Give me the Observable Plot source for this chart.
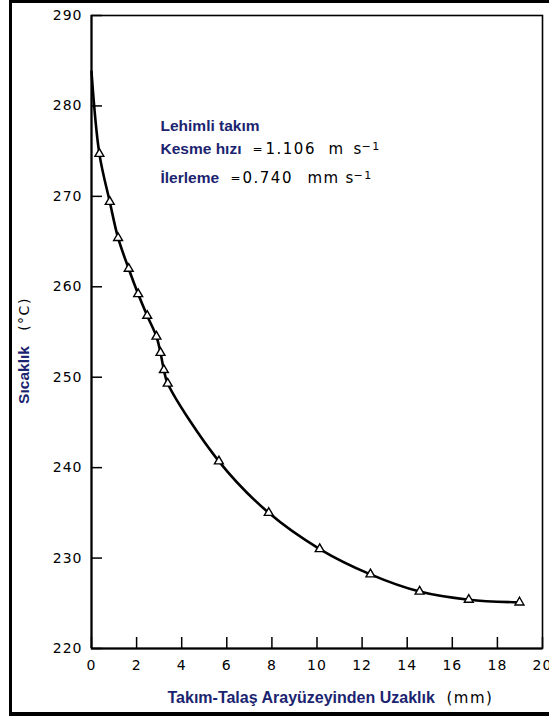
<!DOCTYPE html>
<html><head><meta charset="utf-8">
<script src="https://cdn.jsdelivr.net/npm/d3@7"></script>
<script src="https://cdn.jsdelivr.net/npm/@observablehq/plot@0.6"></script>
<style>
html,body{margin:0;padding:0;background:#fff;overflow:hidden;width:549px;height:720px}
#wrap{position:relative;width:549px;height:720px}
#chart svg{display:block}
#border{position:absolute;left:9px;top:0;width:600px;height:709px;border-top:3px solid #000;border-left:3px solid #000;border-bottom:4px solid #000;pointer-events:none}
</style></head><body><div id="wrap"><div id="chart"></div><div id="border"></div></div>
<script>
// measured points (triangles)
const distance = [0.35, 0.81, 1.18, 1.65, 2.07, 2.47, 2.88, 3.06, 3.21, 3.38, 5.65, 7.86, 10.12, 12.37, 14.55, 16.73, 18.98];
const temperature = [274.7, 269.4, 265.4, 262.0, 259.2, 256.8, 254.5, 252.7, 250.8, 249.3, 240.7, 235.0, 231.0, 228.2, 226.3, 225.4, 225.1];
// curve value at the interface (0 mm)
const startDistance = 0;
const startTemperature = 283.8;
const xTicks = [0, 2, 4, 6, 8, 10, 12, 14, 16, 18, 20];
const yTicks = [220, 230, 240, 250, 260, 270, 280, 290];
const xLabel = "Takım-Talaş Arayüzeyinden Uzaklık";
const xUnit = "(mm)";
const yLabel = "Sıcaklık";
const yUnit = "(°C)";
const noteTitle = "Lehimli takım";
const noteSpeedLabel = "Kesme hızı";
const noteSpeedValue = "1.106";
const noteSpeedUnit = "m";
const noteFeedLabel = "İlerleme";
const noteFeedValue = "0.740";
const noteFeedUnit = "mm";

const points = distance.map((d, i) => ({distance: d, temperature: temperature[i]}));
const curve = [{distance: startDistance, temperature: startTemperature}, ...points];

const W = 549, H = 720, mL = 91, mT = 15, mR = 7, mB = 72;
const navy = "#1b2470";
const geo = "DejaVu Sans";
const sans = "Liberation Sans, Arial, sans-serif";
const navyStyle = {fill: navy, fontFamily: sans, fontWeight: "bold", fontSize: 15.5};
const geoStyle = {fill: "#000", fontFamily: geo, fontSize: 15};
const eqStyle = {fill: "#000", fontFamily: geo, fontSize: 12};
const supStyle = {fill: "#000", fontFamily: geo, fontSize: 11};
const note = (text, frameAnchor, dx, dy, o = {}) =>
  Plot.text([text], {text: d => d, frameAnchor, dx, dy, textAnchor: "start", lineAnchor: "bottom", ...o});

const chart = Plot.plot({
  width: W, height: H,
  marginLeft: mL, marginTop: mT, marginRight: mR, marginBottom: mB,
  x: {domain: [xTicks[0], xTicks[xTicks.length - 1]]},
  y: {domain: [yTicks[0], yTicks[yTicks.length - 1]]},
  style: {fontFamily: geo, fontSize: "14px", color: "#000", background: "#fff"},
  marks: [
    Plot.frame({strokeWidth: 1.6}),
    // inward ticks: outward axis ticks shifted inside the frame
    Plot.axisX({ticks: xTicks, tickSize: 11, dy: -11, tickFormat: () => "", label: null, strokeWidth: 1.5}),
    Plot.axisY({ticks: yTicks, tickSize: 11, dx: 11, tickFormat: () => "", label: null, strokeWidth: 1.5}),
    Plot.ruleX([xTicks[0]], {strokeWidth: 2}),
    Plot.ruleY([yTicks[0]], {strokeWidth: 2}),
    Plot.axisX({ticks: xTicks, tickSize: 0, tickPadding: 12, label: null, tickFormat: d => String(d)}),
    Plot.axisY({ticks: yTicks, tickSize: 0, tickPadding: 9, label: null, tickFormat: d => String(d)}),
    Plot.line(curve, {x: "distance", y: "temperature", curve: "catmull-rom", strokeWidth: 2.6, stroke: "#000"}),
    Plot.dot(points, {x: "distance", y: "temperature", symbol: "triangle", r: 3.3, fill: "white", stroke: "black", strokeWidth: 1.4}),
    // annotation
    note(noteTitle, "top-left", 69, 115, navyStyle),
    note(noteSpeedLabel, "top-left", 69, 138, navyStyle),
    note("=", "top-left", 161, 137, eqStyle),
    note(noteSpeedValue, "top-left", 174, 138, geoStyle),
    note(noteSpeedUnit, "top-left", 237, 138, geoStyle),
    note("s", "top-left", 262, 138, geoStyle),
    note("−1", "top-left", 270, 134, supStyle),
    note(noteFeedLabel, "top-left", 69, 167, navyStyle),
    note("=", "top-left", 139, 166, eqStyle),
    note(noteFeedValue, "top-left", 151, 167, geoStyle),
    note(noteFeedUnit, "top-left", 216, 167, geoStyle),
    note("s", "top-left", 254, 167, geoStyle),
    note("−1", "top-left", 262, 163, supStyle),
    // axis titles
    note(xLabel, "bottom-left", 76, 54, {...navyStyle, fontSize: 16}),
    note(xUnit, "bottom-left", 355, 54, geoStyle),
    note(yLabel, "left", -63, 43, {...navyStyle, rotate: -90, textAnchor: "middle"}),
    note(yUnit, "left", -63, -18, {fill: "#000", fontFamily: geo, fontSize: 14, rotate: -90, textAnchor: "middle"})
  ]
});
document.getElementById("chart").appendChild(chart);
const s = d3.select(chart);
s.selectAll('g[aria-label="x-axis tick label"], g[aria-label="y-axis tick label"]').attr("letter-spacing", 1);
s.selectAll('g[font-family="DejaVu Sans"]').attr("letter-spacing", 1.5);
</script></body></html>
